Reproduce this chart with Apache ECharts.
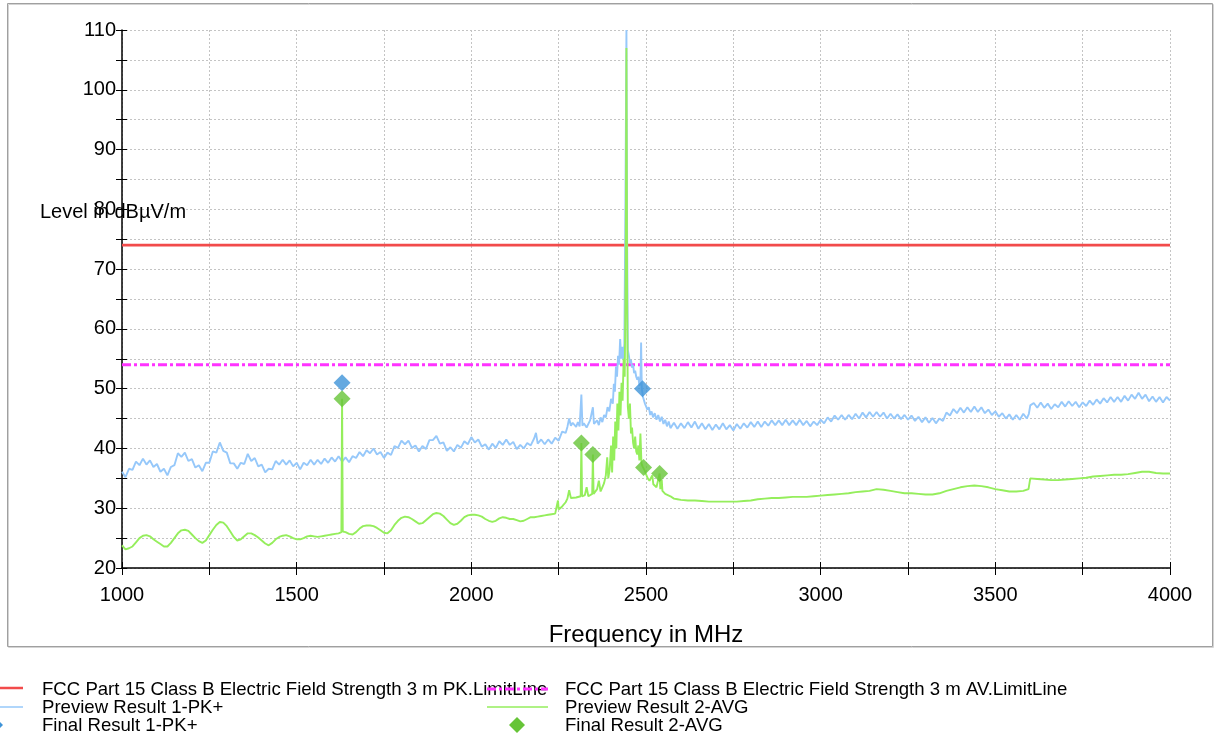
<!DOCTYPE html>
<html>
<head>
<meta charset="utf-8">
<title>Radiated emission 1–4 GHz</title>
<script src="https://cdn.jsdelivr.net/npm/echarts@6/dist/echarts.min.js"></script>
<style>
  html, body { margin: 0; padding: 0; background: #ffffff; }
  #chart { width: 1215px; height: 740px; }
</style>
</head>
<body>
<div id="chart"></div>
<script>
// Limit lines, dBµV/m over the whole 1–4 GHz span
const limitPK = [[1000, 74], [4000, 74]];
const limitAV = [[1000, 54], [4000, 54]];

// Preview Result 1-PK+ : [frequency MHz, level dBµV/m]
const previewPK = [
  [1000,36.1],[1010,35.2],[1020,36.6],[1030,36.4],[1040,37.8],[1050,37.2],[1060,38.3],[1070,37.3],[1080,38.0],[1090,36.9],
  [1100,37.4],[1110,36.1],[1120,36.6],[1130,35.5],[1140,36.9],[1150,37.2],[1160,39.2],[1170,38.6],[1180,39.3],[1190,37.9],
  [1200,38.2],[1210,36.8],[1220,37.2],[1230,36.2],[1240,37.6],[1250,37.6],[1260,39.5],[1270,39.3],[1280,41.0],[1290,39.6],
  [1300,39.3],[1310,37.5],[1320,37.5],[1330,36.6],[1340,37.6],[1350,37.4],[1360,39.1],[1370,37.9],[1380,38.4],[1390,37.0],
  [1400,37.3],[1410,36.0],[1420,36.6],[1430,36.5],[1440,37.9],[1450,37.3],[1460,38.1],[1470,37.3],[1480,38.0],[1490,37.0],
  [1500,37.6],[1510,36.5],[1520,37.6],[1530,37.2],[1540,38.1],[1550,37.3],[1560,38.1],[1570,37.4],[1580,38.3],[1590,37.6],
  [1600,38.5],[1610,37.8],[1620,38.7],[1630,37.8],[1640,38.5],[1650,37.7],[1660,38.7],[1670,38.4],[1680,39.4],[1690,38.7],
  [1700,39.7],[1710,39.2],[1720,40.0],[1730,39.0],[1740,39.4],[1750,38.4],[1760,39.3],[1770,38.9],[1780,40.4],[1790,40.1],
  [1800,41.3],[1810,40.7],[1820,41.3],[1830,40.1],[1840,40.5],[1850,39.5],[1860,40.4],[1870,39.9],[1880,41.4],[1890,41.4],
  [1900,42.1],[1910,40.8],[1920,41.0],[1930,39.6],[1940,40.2],[1950,39.5],[1960,40.6],[1970,40.1],[1980,41.2],[1990,40.7],
  [2000,41.9],[2010,41.0],[2020,41.5],[2030,40.3],[2040,40.7],[2050,39.8],[2060,40.8],[2070,40.1],[2080,41.2],[2090,40.6],
  [2100,41.5],[2110,40.6],[2120,41.1],[2130,39.9],[2140,40.6],[2150,40.0],[2160,40.9],[2170,40.5],[2180,41.7],[2185,42.6],
  [2190,40.8],[2200,41.5],[2210,40.7],[2220,41.5],[2230,40.8],[2240,41.8],[2250,41.3],[2260,42.8],[2270,42.6],[2275,43.6],
  [2280,45.0],[2285,43.8],[2290,44.3],[2300,43.6],[2305,44.4],[2310,43.7],[2315,49.0],[2318,43.8],[2322,44.2],[2330,43.5],
  [2340,44.7],[2348,46.9],[2351,44.1],[2360,44.7],[2365,43.9],[2370,45.2],[2375,44.4],[2380,45.6],[2385,45.2],[2390,46.9],
  [2395,46.2],[2400,48.3],[2405,47.5],[2408,50.8],[2411,49.5],[2414,53.7],[2417,52.0],[2420,55.5],[2423,54.0],[2426,58.3],
  [2429,55.0],[2432,57.0],[2435,54.8],[2438,57.5],[2441,80.0],[2444,110.0],[2446,75.0],[2448,56.5],[2451,55.5],[2454,54.3],
  [2457,54.8],[2460,53.5],[2463,54.0],[2466,52.6],[2469,53.0],[2472,52.0],[2475,51.5],[2478,52.0],[2481,50.5],[2484,51.0],
  [2486,57.7],[2488,50.0],[2491,48.7],[2494,49.0],[2497,47.5],[2500,47.8],[2504,46.5],[2508,46.9],[2512,45.6],[2516,46.2],
  [2520,45.2],[2525,45.9],[2530,44.8],[2535,45.6],[2540,44.5],[2545,45.3],[2550,44.1],[2555,44.8],[2560,43.7],[2565,44.5],
  [2570,43.4],[2580,44.3],[2590,43.3],[2600,44.2],[2610,43.4],[2620,44.4],[2630,43.5],[2640,44.5],[2650,43.3],[2660,44.2],
  [2670,43.2],[2680,44.1],[2690,43.1],[2700,44.0],[2710,43.2],[2720,44.2],[2730,43.2],[2740,43.9],[2750,43.0],[2760,44.1],
  [2770,43.3],[2780,44.2],[2790,43.5],[2800,44.4],[2810,43.6],[2820,44.5],[2830,43.6],[2840,44.5],[2850,43.8],[2860,44.7],
  [2870,43.9],[2880,44.7],[2890,43.9],[2900,44.8],[2910,43.9],[2920,44.7],[2930,43.9],[2940,44.8],[2950,43.9],[2960,44.6],
  [2970,43.7],[2980,44.5],[2990,43.9],[3000,44.8],[3010,44.2],[3020,45.2],[3030,44.5],[3040,45.5],[3050,44.8],[3060,45.6],
  [3070,44.8],[3080,45.6],[3090,44.9],[3100,45.8],[3110,45.0],[3120,46.0],[3130,45.2],[3140,46.1],[3150,45.3],[3160,46.1],
  [3170,45.3],[3180,46.0],[3190,45.0],[3200,45.8],[3210,45.0],[3220,45.7],[3230,44.9],[3240,45.6],[3250,44.8],[3260,45.5],
  [3270,44.6],[3280,45.3],[3290,44.4],[3300,45.2],[3310,44.3],[3320,45.1],[3330,44.2],[3340,45.0],[3350,44.6],[3360,46.0],
  [3370,45.5],[3380,46.6],[3390,45.9],[3400,46.8],[3410,46.0],[3420,46.9],[3430,46.1],[3440,47.0],[3450,46.1],[3460,46.9],
  [3470,45.9],[3480,46.5],[3490,45.6],[3500,46.2],[3510,45.3],[3520,45.9],[3530,45.0],[3540,45.7],[3550,44.8],[3560,45.6],
  [3570,44.8],[3580,45.8],[3590,45.0],[3596,45.8],[3600,47.2],[3610,47.6],[3620,46.8],[3630,47.7],[3640,46.8],[3650,47.5],
  [3660,46.6],[3670,47.4],[3680,46.9],[3690,47.8],[3700,47.0],[3710,47.9],[3720,47.1],[3730,47.8],[3740,46.9],[3750,47.7],
  [3760,47.1],[3770,48.0],[3780,47.3],[3790,48.2],[3800,47.5],[3810,48.4],[3820,47.7],[3830,48.6],[3840,47.8],[3850,48.6],
  [3860,47.8],[3870,48.8],[3880,48.0],[3890,49.0],[3900,48.3],[3910,49.3],[3920,48.3],[3930,49.0],[3940,47.9],[3950,48.7],
  [3960,47.8],[3970,48.6],[3980,47.7],[3990,48.6],[4000,48.0]
];

// Preview Result 2-AVG : [frequency MHz, level dBµV/m]
const previewAVG = [
  [1000,23.8],[1010,23.1],[1020,23.3],[1030,23.6],[1040,24.3],[1050,25.0],[1060,25.4],[1070,25.5],[1080,25.3],[1090,24.8],
  [1100,24.4],[1110,24.0],[1120,23.6],[1130,23.6],[1140,24.2],[1150,25.0],[1160,25.8],[1170,26.3],[1180,26.4],[1190,26.2],
  [1200,25.6],[1210,25.0],[1220,24.5],[1230,24.2],[1240,24.6],[1250,25.5],[1260,26.4],[1270,27.2],[1280,27.7],[1290,27.6],
  [1300,27.0],[1310,26.1],[1320,25.2],[1330,24.6],[1340,24.8],[1350,25.3],[1360,25.8],[1370,25.8],[1380,25.5],[1390,25.1],
  [1400,24.6],[1410,24.1],[1420,23.8],[1430,24.2],[1440,24.8],[1450,25.2],[1460,25.4],[1470,25.5],[1480,25.3],[1490,25.0],
  [1500,24.8],[1510,24.8],[1520,25.0],[1530,25.3],[1540,25.4],[1550,25.3],[1560,25.2],[1570,25.3],[1580,25.4],[1590,25.5],
  [1600,25.6],[1610,25.7],[1620,25.8],[1628,26.0],[1630,48.3],[1632,26.1],[1640,26.0],[1650,25.7],[1660,25.6],[1670,26.0],
  [1680,26.6],[1690,27.0],[1700,27.1],[1710,27.1],[1720,27.0],[1730,26.7],[1740,26.3],[1750,25.9],[1760,25.8],[1770,26.3],
  [1780,27.2],[1790,27.9],[1800,28.4],[1810,28.6],[1820,28.5],[1830,28.2],[1840,27.8],[1850,27.4],[1860,27.5],[1870,28.0],
  [1880,28.5],[1890,29.0],[1900,29.2],[1910,29.1],[1920,28.7],[1930,28.1],[1940,27.5],[1950,27.2],[1960,27.4],[1970,27.9],
  [1980,28.5],[1990,28.8],[2000,28.9],[2010,28.9],[2020,28.8],[2030,28.6],[2040,28.2],[2050,27.9],[2060,27.7],[2070,27.9],
  [2080,28.3],[2090,28.5],[2100,28.4],[2110,28.2],[2120,28.2],[2130,28.0],[2140,27.8],[2150,27.9],[2160,28.2],[2170,28.5],
  [2180,28.5],[2190,28.6],[2200,28.7],[2210,28.8],[2220,28.9],[2230,29.0],[2240,29.1],[2245,29.2],[2248,31.3],[2250,29.8],
  [2260,30.3],[2270,31.0],[2275,31.6],[2280,33.0],[2285,31.7],[2290,31.6],[2300,31.8],[2305,31.9],[2313,32.0],[2315,40.9],
  [2317,32.0],[2325,32.2],[2330,33.5],[2335,32.0],[2340,32.3],[2346,32.4],[2348,39.0],[2350,32.4],[2355,32.2],[2360,33.2],
  [2365,34.6],[2370,32.8],[2375,33.5],[2380,34.2],[2385,35.5],[2389,38.5],[2392,35.0],[2396,36.5],[2400,40.5],[2403,36.0],
  [2406,42.0],[2409,38.0],[2412,44.5],[2415,40.0],[2418,47.5],[2421,43.0],[2424,49.5],[2427,45.5],[2430,51.0],[2433,48.0],
  [2436,55.0],[2439,52.0],[2442,70.0],[2444,107.0],[2446,65.0],[2448,47.0],[2451,45.0],[2454,47.5],[2457,42.5],[2460,43.5],
  [2463,41.0],[2466,40.0],[2469,42.0],[2472,39.5],[2475,39.0],[2478,40.5],[2481,38.0],[2484,42.5],[2487,37.5],[2490,37.0],
  [2493,36.8],[2497,36.2],[2500,35.7],[2505,35.0],[2510,34.6],[2515,34.3],[2518,35.5],[2521,34.0],[2525,33.8],[2530,33.5],
  [2535,33.3],[2539,35.8],[2541,33.2],[2545,34.8],[2547,32.9],[2550,32.7],[2555,32.4],[2560,32.3],[2570,32.0],[2580,31.6],
  [2590,31.5],[2600,31.4],[2620,31.3],[2640,31.3],[2660,31.2],[2680,31.1],[2700,31.1],[2720,31.1],[2740,31.1],[2760,31.1],
  [2780,31.2],[2800,31.3],[2820,31.5],[2840,31.6],[2860,31.7],[2880,31.7],[2900,31.8],[2920,31.9],[2940,31.9],[2960,31.9],
  [2980,32.0],[3000,32.1],[3020,32.2],[3040,32.3],[3060,32.4],[3080,32.5],[3100,32.7],[3120,32.8],[3140,32.9],[3160,33.2],
  [3180,33.1],[3200,32.9],[3220,32.7],[3240,32.5],[3260,32.5],[3280,32.4],[3300,32.3],[3320,32.3],[3340,32.5],[3360,32.9],
  [3380,33.2],[3400,33.5],[3420,33.7],[3440,33.8],[3460,33.7],[3480,33.5],[3500,33.2],[3520,33.0],[3540,32.8],[3560,32.8],
  [3580,32.9],[3595,33.2],[3600,35.0],[3620,34.9],[3640,34.8],[3660,34.7],[3680,34.7],[3700,34.8],[3720,34.9],[3740,35.0],
  [3760,35.1],[3780,35.3],[3800,35.4],[3820,35.5],[3840,35.6],[3860,35.6],[3880,35.7],[3900,35.9],[3920,36.1],[3940,36.1],
  [3960,35.9],[3980,35.8],[4000,35.8]
];

// Final measurements (diamonds)
const finalPK = [[1630, 51.0], [2490, 50.0]];
const finalAVG = [[1630, 48.3], [2315, 40.9], [2348, 39.0], [2493, 36.8], [2539, 35.8]];

// Axis ranges and tick steps
const xRange = [1000, 4000];
const yRange = [20, 110];
const xTickStep = 250;
const xLabelStep = 500;
const yTickStep = 5;
const yLabelStep = 10;

// Legend entries
const legendNames = [
  'FCC Part 15 Class B Electric Field Strength 3 m PK.LimitLine',
  'Preview Result 1-PK+',
  'Final Result 1-PK+',
  'FCC Part 15 Class B Electric Field Strength 3 m AV.LimitLine',
  'Preview Result 2-AVG',
  'Final Result 2-AVG'
];

const C = {
  red: '#f24b4b',
  magenta: '#ff33ff',
  pkLine: '#96c8fa',
  avgLine: '#95ee5c',
  pkMark: '#3e93d8',
  avgMark: '#66c437',
  grid: '#c4c4c4'
};
const FONT = '"Liberation Sans", Arial, Helvetica, sans-serif';

const chart = echarts.init(document.getElementById('chart'), null, { renderer: 'canvas' });

function diamond(cx, cy, r, fill) {
  return {
    type: 'polygon',
    shape: { points: [[cx, cy - r], [cx + r, cy], [cx, cy + r], [cx - r, cy]] },
    style: { fill: fill },
    silent: true
  };
}
function legendText(x, y, text) {
  return {
    type: 'text', x: x, y: y, silent: true,
    style: { text: text, font: '18.6px ' + FONT, fill: '#000', textVerticalAlign: 'middle', verticalAlign: 'middle' }
  };
}

const rowY = [690, 708, 726];

// shared pieces of the two x axes and two y axes (second pair only adds inner ticks)
const xBase = { type: 'value', min: xRange[0], max: xRange[1], interval: xTickStep, position: 'bottom' };
const yBase = { type: 'value', min: yRange[0], max: yRange[1], interval: yTickStep, position: 'left' };

const option = {
  animation: false,
  backgroundColor: '#ffffff',
  grid: { left: 122, right: 45, top: 30, bottom: 172, containLabel: false },
  xAxis: [
    Object.assign({}, xBase, {
      name: 'Frequency in MHz',
      nameLocation: 'middle',
      nameGap: 55,
      nameTextStyle: { fontFamily: FONT, fontSize: 24, color: '#000' },
      axisLine: { lineStyle: { color: '#000', width: 1.5 } },
      axisTick: { show: true, length: 7, lineStyle: { color: '#000', width: 1 } },
      axisLabel: {
        margin: 17, fontFamily: FONT, fontSize: 20, color: '#000',
        formatter: v => (v % xLabelStep === 0 ? String(v) : '')
      },
      splitLine: { show: true, lineStyle: { color: C.grid, width: 1, type: [2, 2] } }
    }),
    Object.assign({}, xBase, {
      axisLine: { show: false },
      axisTick: { show: true, inside: true, length: 6, lineStyle: { color: '#000', width: 1 } },
      axisLabel: { show: false },
      splitLine: { show: false }
    })
  ],
  yAxis: [
    Object.assign({}, yBase, {
      axisLine: { show: true, lineStyle: { color: '#000', width: 1.5 } },
      axisTick: { show: true, length: 6, lineStyle: { color: '#000', width: 1 } },
      axisLabel: {
        margin: 6, fontFamily: FONT, fontSize: 20, color: '#000',
        formatter: v => (v % yLabelStep === 0 ? String(v) : '')
      },
      splitLine: { show: true, lineStyle: { color: C.grid, width: 1, type: [2, 2] } }
    }),
    Object.assign({}, yBase, {
      axisLine: { show: false },
      axisTick: { show: true, inside: true, length: 5, lineStyle: { color: '#000', width: 1 } },
      axisLabel: { show: false },
      splitLine: { show: false }
    })
  ],
  graphic: [
    // outer frame
    { type: 'rect', shape: { x: 8.5, y: 4.5, width: 1205, height: 643 }, style: { fill: 'none', stroke: '#d4d4d4', lineWidth: 1 }, silent: true, z: -1 },
    { type: 'rect', shape: { x: 7.5, y: 3.5, width: 1205, height: 643 }, style: { fill: 'none', stroke: '#a0a0a0', lineWidth: 1 }, silent: true, z: -1 },
    // y axis title
    { type: 'text', x: 40, y: 212, silent: true, z: 10,
      style: { text: 'Level in dBµV/m', font: '20px ' + FONT, fill: '#000', textVerticalAlign: 'middle', verticalAlign: 'middle' } },
    // legend column 1
    { type: 'line', shape: { x1: -38, y1: rowY[0] - 2, x2: 23, y2: rowY[0] - 2 }, style: { stroke: C.red, lineWidth: 2.5 }, silent: true },
    { type: 'line', shape: { x1: -38, y1: rowY[1] - 1, x2: 23, y2: rowY[1] - 1 }, style: { stroke: C.pkLine, lineWidth: 1.5 }, silent: true },
    diamond(-5, rowY[2] - 1, 8, C.pkMark),
    legendText(42, rowY[0], legendNames[0]),
    legendText(42, rowY[1], legendNames[1]),
    legendText(42, rowY[2], legendNames[2]),
    // legend column 2
    { type: 'line', shape: { x1: 487, y1: rowY[0] - 1, x2: 548, y2: rowY[0] - 1 }, style: { stroke: C.magenta, lineWidth: 3, lineDash: [9, 3, 3, 3] }, silent: true, z: 20 },
    { type: 'line', shape: { x1: 487, y1: rowY[1] - 1, x2: 548, y2: rowY[1] - 1 }, style: { stroke: C.avgLine, lineWidth: 1.5 }, silent: true },
    diamond(517, rowY[2] - 1, 8, C.avgMark),
    legendText(565, rowY[0], legendNames[3]),
    legendText(565, rowY[1], legendNames[4]),
    legendText(565, rowY[2], legendNames[5])
  ],
  series: [
    {
      name: legendNames[0], type: 'line', data: limitPK, showSymbol: false, z: 2,
      lineStyle: { color: C.red, width: 2.8 }
    },
    {
      name: legendNames[3], type: 'line', data: limitAV, showSymbol: false, z: 2,
      lineStyle: { color: C.magenta, width: 3, type: [9, 3, 3, 3] }
    },
    {
      name: legendNames[1], type: 'line', data: previewPK, showSymbol: false, sampling: null, z: 3,
      lineStyle: { color: C.pkLine, width: 1.9 }
    },
    {
      name: legendNames[4], type: 'line', data: previewAVG, showSymbol: false, sampling: null, z: 4,
      lineStyle: { color: C.avgLine, width: 1.9 }
    },
    {
      name: legendNames[2], type: 'scatter', data: finalPK, symbol: 'diamond', symbolSize: 17, z: 6,
      itemStyle: { color: C.pkMark }
    },
    {
      name: legendNames[5], type: 'scatter', data: finalAVG, symbol: 'diamond', symbolSize: 17, z: 6,
      itemStyle: { color: C.avgMark }
    }
  ]
};

chart.setOption(option);
</script>
</body>
</html>
